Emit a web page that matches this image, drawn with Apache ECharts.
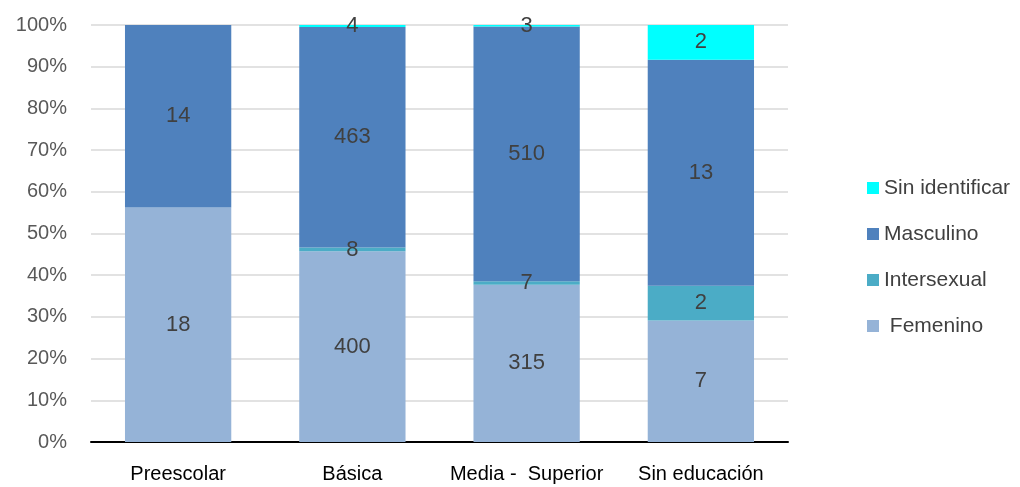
<!DOCTYPE html>
<html>
<head>
<meta charset="utf-8">
<script src="https://cdn.jsdelivr.net/npm/echarts@6/dist/echarts.min.js"></script>
<style>
  html, body { margin: 0; padding: 0; background: #fff; }
  #main { width: 1020px; height: 487px; }
</style>
</head>
<body>
<div id="main"></div>
<script>
// categorias y valores absolutos
var categorias = ['Preescolar', 'Básica', 'Media -  Superior', 'Sin educación'];
var femenino = [18, 400, 315, 7];
var intersexual = [0, 8, 7, 2];
var masculino = [14, 463, 510, 13];
var sinIdentificar = [0, 4, 3, 2];
var yTicks = ['0%', '10%', '20%', '30%', '40%', '50%', '60%', '70%', '80%', '90%', '100%'];

var fuente = "'Liberation Sans Narrow', 'Arial Narrow', 'Liberation Sans', sans-serif";

var totales = categorias.map(function (c, i) {
    return femenino[i] + intersexual[i] + masculino[i] + sinIdentificar[i];
});

// convierte a porcentaje, guarda el valor original para la etiqueta
function aPorcentaje(arr) {
    return arr.map(function (v, i) {
        return { value: v / totales[i] * 100, raw: v };
    });
}

function serie(nombre, arr, color) {
    return {
        name: nombre,
        type: 'bar',
        stack: 'total',
        barWidth: '61%',
        data: aPorcentaje(arr),
        itemStyle: { color: color },
        label: {
            show: true,
            position: 'inside',
            color: '#404040',
            fontSize: 22,
            fontFamily: fuente,
            formatter: function (p) {
                return p.data.raw > 0 ? p.data.raw : '';
            }
        }
    };
}

var myChart = echarts.init(document.getElementById('main'));

var option = {
    animation: false,
    grid: { left: 91, right: 232, top: 25, bottom: 45 },
    legend: {
        orient: 'vertical',
        left: 862,
        top: 171,
        itemGap: 22,
        itemWidth: 12,
        itemHeight: 12,
        icon: 'rect',
        data: ['Sin identificar', 'Masculino', 'Intersexual', 'Femenino'],
        formatter: function (n) { return n === 'Femenino' ? ' ' + n : n; },
        textStyle: { fontSize: 21, lineHeight: 24, color: '#404040', fontFamily: fuente }
    },
    xAxis: {
        type: 'category',
        data: categorias,
        axisLine: { lineStyle: { color: '#000', width: 2 } },
        axisTick: { show: false },
        axisLabel: { interval: 0, color: '#000', fontSize: 20, fontFamily: fuente, margin: 22 }
    },
    yAxis: {
        type: 'value',
        min: 0,
        max: 100,
        interval: 10,
        axisLine: { show: false },
        axisTick: { show: false },
        splitLine: { lineStyle: { color: '#D9D9D9', width: 1.5 } },
        axisLabel: {
            color: '#595959',
            fontSize: 20,
            fontFamily: fuente,
            margin: 24,
            formatter: function (v) { return yTicks[Math.round(v / 10)]; }
        }
    },
    series: [
        serie('Femenino', femenino, '#95B3D7'),
        serie('Intersexual', intersexual, '#4BACC6'),
        serie('Masculino', masculino, '#4F81BD'),
        serie('Sin identificar', sinIdentificar, '#00FFFF')
    ]
};

myChart.setOption(option);
</script>
</body>
</html>
